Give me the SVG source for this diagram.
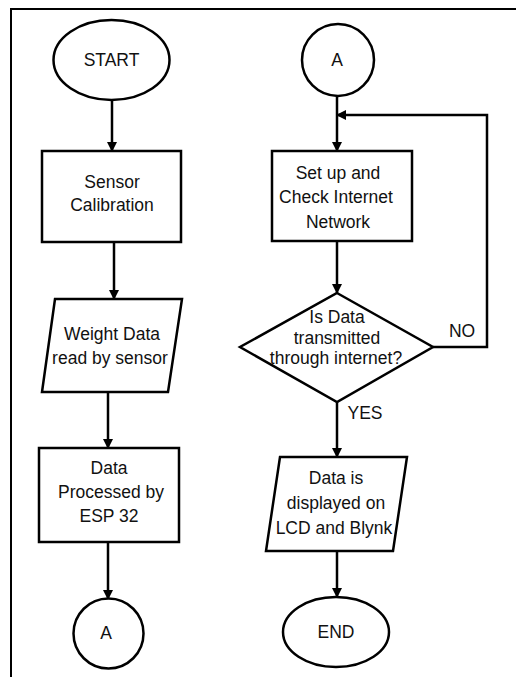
<svg xmlns="http://www.w3.org/2000/svg" width="516" height="677" viewBox="0 0 516 677">
<defs>
<marker id="arr" markerWidth="10" markerHeight="10" refX="9" refY="5" orient="auto" markerUnits="userSpaceOnUse">
<path d="M0,0 L10,5 L0,10 Z" fill="#000"/>
</marker>
<style>
.shape{fill:#fff;stroke:#000;stroke-width:2.5}
.edge{fill:none;stroke:#000;stroke-width:2.5}
.frame{fill:none;stroke:#000;stroke-width:2}
text{font-family:"Liberation Sans",Arial,sans-serif;font-size:17.5px;fill:#111;text-anchor:middle;dominant-baseline:central}
</style>
</defs>
<rect width="516" height="677" fill="#fff"/>
<path class="frame" d="M11,677 L11,9 L516,9"/>
<g id="connectors">
<line class="edge" x1="112" y1="100" x2="112" y2="151" marker-end="url(#arr)"/>
<line class="edge" x1="114" y1="242" x2="114" y2="299" marker-end="url(#arr)"/>
<line class="edge" x1="108" y1="392" x2="108" y2="448" marker-end="url(#arr)"/>
<line class="edge" x1="108" y1="542" x2="108" y2="599" marker-end="url(#arr)"/>
<line class="edge" x1="337" y1="97" x2="337" y2="151" marker-end="url(#arr)"/>
<line class="edge" x1="337" y1="241" x2="337" y2="293" marker-end="url(#arr)"/>
<polyline class="edge" points="433,347 487,347 487,115 337,115" marker-end="url(#arr)"/>
<line class="edge" x1="337" y1="402" x2="337" y2="457" marker-end="url(#arr)"/>
<line class="edge" x1="337" y1="551" x2="337" y2="597" marker-end="url(#arr)"/>
<text x="462" y="331">NO</text>
<text x="365" y="413">YES</text>
</g>
<g id="start">
<ellipse class="shape" cx="111.5" cy="60" rx="58" ry="40"/>
<text x="111.5" y="60">START</text>
</g>
<g id="calibration">
<rect class="shape" x="42" y="151" width="139" height="91"/>
<text x="112" y="182">Sensor</text>
<text x="112" y="205">Calibration</text>
</g>
<g id="weight">
<polygon class="shape" points="55,299 182,299 168,392 42,392"/>
<text x="112" y="334">Weight Data</text>
<text x="110" y="358">read by sensor</text>
</g>
<g id="process">
<rect class="shape" x="39" y="448" width="140" height="94"/>
<text x="109" y="468">Data</text>
<text x="111" y="492">Processed by</text>
<text x="109" y="516">ESP 32</text>
</g>
<g id="connA1">
<circle class="shape" cx="108.5" cy="633.5" r="35"/>
<text x="106" y="633">A</text>
</g>
<g id="connA2">
<circle class="shape" cx="338" cy="60" r="36"/>
<text x="337" y="60">A</text>
</g>
<g id="setup">
<rect class="shape" x="272" y="151" width="140" height="90"/>
<text x="338" y="173">Set up and</text>
<text x="336" y="197">Check Internet</text>
<text x="338" y="222">Network</text>
</g>
<g id="decision">
<polygon class="shape" points="337,293 433,347 337,402 240,347"/>
<text x="337" y="317">Is Data</text>
<text x="337" y="338">transmitted</text>
<text x="336" y="358">through internet?</text>
</g>
<g id="display">
<polygon class="shape" points="280,457 407,457 393,551 266,551"/>
<text x="336" y="478">Data is</text>
<text x="336" y="503">displayed on</text>
<text x="334" y="528">LCD and Blynk</text>
</g>
<g id="end">
<ellipse class="shape" cx="336" cy="632" rx="53" ry="35"/>
<text x="336" y="632">END</text>
</g>
</svg>
